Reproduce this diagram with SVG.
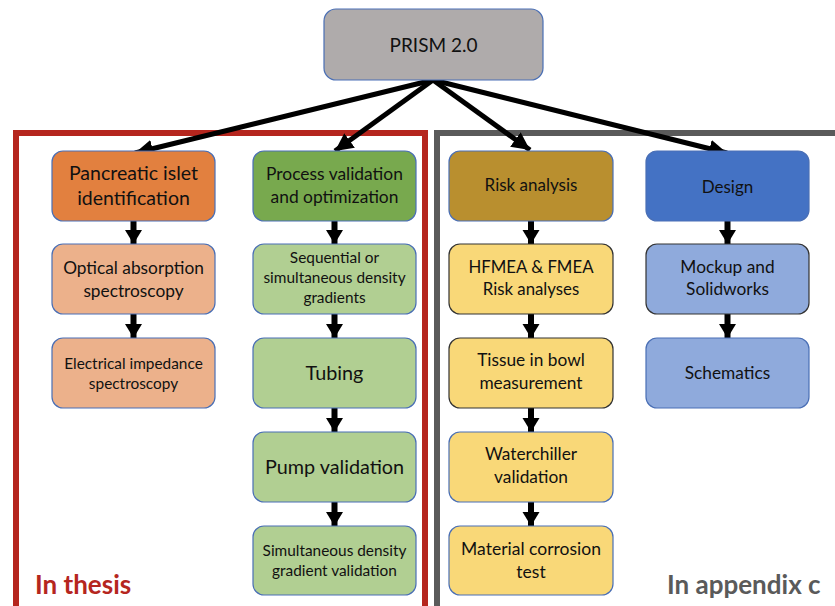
<svg xmlns="http://www.w3.org/2000/svg" width="835" height="606" viewBox="0 0 835 606">
  <style>
    text { font-family: Lato, "Open Sans", "Liberation Sans", sans-serif; fill: #111; text-anchor: middle; }
    .node rect { stroke-width: 1.2; }
    .frame { fill: none; stroke-width: 6; }
    .conn line { stroke: #000; stroke-width: 5; }
    .conn line.step { stroke-width: 6; }
    .label { font-weight: bold; font-size: 26px; text-anchor: start; }
  </style>
  <defs>
    <marker id="head" markerUnits="userSpaceOnUse" markerWidth="20" markerHeight="18" refX="18" refY="9" orient="auto">
      <path d="M0,0 L18,9 L0,18 Z" fill="#000"/>
    </marker>
    <marker id="headS" markerUnits="userSpaceOnUse" markerWidth="16" markerHeight="18" refX="14" refY="9" orient="auto">
      <path d="M0,0.5 L14,9 L0,17.5 Z" fill="#000"/>
    </marker>
  </defs>

  <rect width="835" height="606" fill="#fff"/>

  <!-- grouping frames -->
  <rect class="frame" x="16" y="133" width="409" height="490" stroke="#b5261e"/>
  <rect class="frame" x="437" y="133" width="420" height="490" stroke="#5a5a5a"/>
  <text class="label" x="35" y="594" style="fill:#b5261e">In thesis</text>
  <text class="label" x="667" y="594" style="fill:#5a5a5a">In appendix c</text>

  <!-- connectors -->
  <g class="conn">
    <line x1="433" y1="80" x2="135" y2="153" marker-end="url(#head)"/>
    <line x1="433" y1="80" x2="335" y2="151" marker-end="url(#head)"/>
    <line x1="433" y1="80" x2="530" y2="150" marker-end="url(#head)"/>
    <line x1="433" y1="80" x2="727" y2="153" marker-end="url(#head)"/>

    <line class="step" x1="133.5" y1="221" x2="133.5" y2="244" marker-end="url(#headS)"/>
    <line class="step" x1="133.5" y1="314" x2="133.5" y2="338" marker-end="url(#headS)"/>

    <line class="step" x1="334.5" y1="221" x2="334.5" y2="244" marker-end="url(#headS)"/>
    <line class="step" x1="334.5" y1="314" x2="334.5" y2="338" marker-end="url(#headS)"/>
    <line class="step" x1="334.5" y1="408" x2="334.5" y2="432" marker-end="url(#headS)"/>
    <line class="step" x1="334.5" y1="502" x2="334.5" y2="526" marker-end="url(#headS)"/>

    <line class="step" x1="531" y1="221" x2="531" y2="244" marker-end="url(#headS)"/>
    <line class="step" x1="531" y1="314" x2="531" y2="338" marker-end="url(#headS)"/>
    <line class="step" x1="531" y1="408" x2="531" y2="432" marker-end="url(#headS)"/>
    <line class="step" x1="531" y1="502" x2="531" y2="526" marker-end="url(#headS)"/>

    <line class="step" x1="727.5" y1="221" x2="727.5" y2="244" marker-end="url(#headS)"/>
    <line class="step" x1="727.5" y1="314" x2="727.5" y2="338" marker-end="url(#headS)"/>
  </g>

  <!-- root -->
  <g id="prism" class="node">
    <rect x="324" y="9" width="219" height="71" rx="12" fill="#afabab" stroke="#4a6fb5"/>
    <text x="433.5" y="52" font-size="19">PRISM 2.0</text>
  </g>

  <!-- in thesis: islet identification -->
  <g id="islet" class="node">
    <rect x="52" y="151" width="163" height="70" rx="11" fill="#e2803f" stroke="#4a6fb5"/>
    <text x="133.5" y="180" font-size="19.5">Pancreatic islet</text>
    <text x="133.5" y="205" font-size="19.5">identification</text>
  </g>
  <g id="optical" class="node">
    <rect x="52" y="244" width="163" height="70" rx="11" fill="#ecb18b" stroke="#4a6fb5"/>
    <text x="133.5" y="274" font-size="17.3">Optical absorption</text>
    <text x="133.5" y="297" font-size="17.3">spectroscopy</text>
  </g>
  <g id="impedance" class="node">
    <rect x="52" y="338" width="163" height="70" rx="11" fill="#ecb18b" stroke="#4a6fb5"/>
    <text x="133.5" y="369" font-size="15.4">Electrical impedance</text>
    <text x="133.5" y="389" font-size="15.4">spectroscopy</text>
  </g>

  <!-- in thesis: process validation -->
  <g id="process" class="node">
    <rect x="253" y="151" width="163" height="70" rx="11" fill="#78a94e" stroke="#4a6fb5"/>
    <text x="334.5" y="180" font-size="17.4">Process validation</text>
    <text x="334.5" y="203" font-size="17.4">and optimization</text>
  </g>
  <g id="gradients" class="node">
    <rect x="253" y="244" width="163" height="70" rx="11" fill="#b1cf92" stroke="#4a6fb5"/>
    <text x="334.5" y="263" font-size="15.4">Sequential or</text>
    <text x="334.5" y="283" font-size="15.4">simultaneous density</text>
    <text x="334.5" y="303" font-size="15.4">gradients</text>
  </g>
  <g id="tubing" class="node">
    <rect x="253" y="338" width="163" height="70" rx="11" fill="#b1cf92" stroke="#4a6fb5"/>
    <text x="334.5" y="380" font-size="19.8">Tubing</text>
  </g>
  <g id="pump" class="node">
    <rect x="253" y="432" width="163" height="70" rx="11" fill="#b1cf92" stroke="#4a6fb5"/>
    <text x="334.5" y="474" font-size="19.8">Pump validation</text>
  </g>
  <g id="simultaneous" class="node">
    <rect x="253" y="526" width="163" height="69" rx="11" fill="#b1cf92" stroke="#4a6fb5"/>
    <text x="334.5" y="556" font-size="15.4">Simultaneous density</text>
    <text x="334.5" y="576" font-size="15.4">gradient validation</text>
  </g>

  <!-- in appendix: risk analysis -->
  <g id="risk" class="node">
    <rect x="449" y="151" width="164" height="70" rx="11" fill="#b98f2f" stroke="#4a6fb5"/>
    <text x="531" y="191" font-size="17">Risk analysis</text>
  </g>
  <g id="hfmea" class="node">
    <rect x="449" y="244" width="164" height="70" rx="11" fill="#f9d878" stroke="#333"/>
    <text x="531" y="273" font-size="16.8">HFMEA &amp; FMEA</text>
    <text x="531" y="295" font-size="16.8">Risk analyses</text>
  </g>
  <g id="tissue" class="node">
    <rect x="449" y="338" width="164" height="70" rx="11" fill="#f9d878" stroke="#333"/>
    <text x="531" y="366" font-size="17.3">Tissue in bowl</text>
    <text x="531" y="389" font-size="17.3">measurement</text>
  </g>
  <g id="waterchiller" class="node">
    <rect x="449" y="432" width="164" height="70" rx="11" fill="#f9d878" stroke="#4a6fb5"/>
    <text x="531" y="460" font-size="17.3">Waterchiller</text>
    <text x="531" y="483" font-size="17.3">validation</text>
  </g>
  <g id="corrosion" class="node">
    <rect x="449" y="526" width="164" height="69" rx="11" fill="#f9d878" stroke="#4a6fb5"/>
    <text x="531" y="555" font-size="17.5">Material corrosion</text>
    <text x="531" y="578" font-size="17.5">test</text>
  </g>

  <!-- in appendix: design -->
  <g id="design" class="node">
    <rect x="646" y="151" width="163" height="70" rx="11" fill="#4472c4" stroke="#4a6fb5"/>
    <text x="727.5" y="193" font-size="17">Design</text>
  </g>
  <g id="mockup" class="node">
    <rect x="646" y="244" width="163" height="70" rx="11" fill="#8faadc" stroke="#333"/>
    <text x="727.5" y="273" font-size="17.3">Mockup and</text>
    <text x="727.5" y="295" font-size="17.3">Solidworks</text>
  </g>
  <g id="schematics" class="node">
    <rect x="646" y="338" width="163" height="70" rx="11" fill="#8faadc" stroke="#4a6fb5"/>
    <text x="727.5" y="379" font-size="17.3">Schematics</text>
  </g>
</svg>
